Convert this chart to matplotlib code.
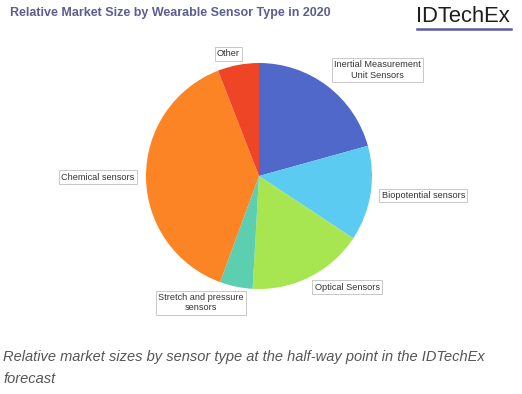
import matplotlib
matplotlib.use("Agg")
import matplotlib.pyplot as plt
from matplotlib.lines import Line2D

plt.rcParams["font.family"] = ["Liberation Sans", "DejaVu Sans"]

# share of 2020 market (percent)
sensor_types = [
    "Inertial Measurement\nUnit Sensors",
    "Biopotential sensors",
    "Optical Sensors",
    "Stretch and pressure\nsensors",
    "Chemical sensors",
    "Other",
]
market_share = [20.7, 13.6, 16.6, 4.7, 38.5, 5.9]
slice_colors = ["#4f68c9", "#5ccbf2", "#a8e651", "#5ccfb0", "#fc8424", "#ef4527"]

W, H = 522, 394
fig = plt.figure(figsize=(W / 100, H / 100), dpi=100)

# pie centre (259, 176) px, radius 113 px
cx, cy, r = 259, 176, 113
ax = fig.add_axes([(cx - r) / W, (H - cy - r) / H, 2 * r / W, 2 * r / H])
wedges, texts = ax.pie(
    market_share,
    labels=sensor_types,
    colors=slice_colors,
    startangle=90,
    counterclock=False,
    radius=1,
    labeldistance=1.1,
    textprops=dict(fontsize=6.6, color="#333333"),
)

# small nudges so the label boxes sit where the original placed them (in pixels)
nudge = {0: (0, 7), 3: (10, -5), 5: (4, 0)}
for i, t in enumerate(texts):
    t.set_multialignment("center")
    t.set_bbox(dict(boxstyle="square,pad=0.25", facecolor="white",
                    edgecolor="#c8c8c8", linewidth=0.7))
    if i in nudge:
        x, y = t.get_position()
        t.set_position((x + nudge[i][0] / r, y + nudge[i][1] / r))
ax.set_xlim(-1, 1)
ax.set_ylim(-1, 1)
ax.set_aspect("auto")
ax.axis("off")

fig.text(10 / W, 1 - 13 / H, "Relative Market Size by Wearable Sensor Type in 2020",
         fontsize=9, fontweight="bold", color="#5b5f8f", va="center", ha="left")

# logo
fig.text(416 / W, 1 - 22 / H, "IDTechEx", fontsize=15.8, color="#1e1e1e",
         ha="left", va="baseline")
fig.add_artist(Line2D([417 / W, 511 / W], [1 - 29.3 / H, 1 - 29.3 / H],
                      color="#5b5ba0", linewidth=1.8, transform=fig.transFigure))

caption = ["Relative market sizes by sensor type at the half-way point in the IDTechEx",
           "forecast"]
for k, line in enumerate(caption):
    fig.text(3 / W, 1 - (361 + 22 * k) / H, line, fontsize=10.5, style="italic",
             color="#555555", ha="left", va="baseline")

fig.savefig("out.png", dpi=100)
